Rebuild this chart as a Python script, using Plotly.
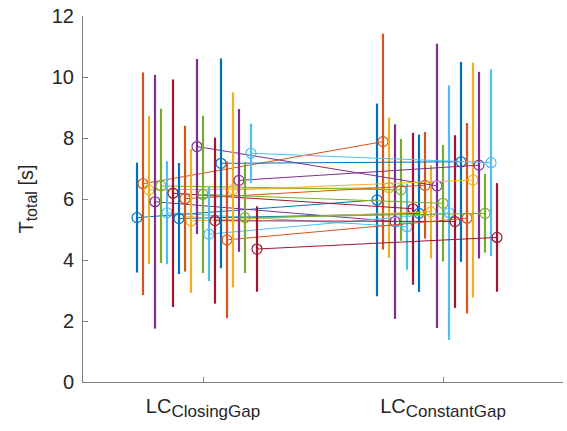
import plotly.graph_objects as go

# Per-subject total time (mean and standard deviation) for both lane-change conditions
sub_style = "<sub><span style='font-size:17px'>{}</span></sub>"
conditions = ["LC" + sub_style.format("ClosingGap"), "LC" + sub_style.format("ConstantGap")]

closing_mean = [5.39, 6.50, 6.30, 5.91, 6.43, 5.55, 6.19, 5.36, 6.01, 5.28, 7.72,
                6.15, 4.85, 5.29, 7.17, 4.66, 6.30, 6.61, 5.39, 7.50, 4.36]
closing_sd = [1.80, 3.65, 2.43, 4.16, 2.53, 1.69, 3.73, 1.82, 2.39, 2.36, 2.87,
              2.58, 1.54, 2.72, 3.44, 2.57, 3.20, 2.34, 1.82, 0.97, 1.40]

constant_mean = [5.97, 7.88, 6.37, 5.26, 6.30, 5.09, 5.68, 5.53, 6.45, 5.58, 6.43,
                 5.86, 5.55, 5.26, 7.22, 5.37, 6.62, 7.11, 5.53, 7.19, 4.74]
constant_sd = [3.16, 3.54, 2.30, 3.19, 1.67, 1.41, 2.49, 2.58, 1.75, 1.53, 4.66,
               1.91, 4.17, 2.83, 3.28, 3.12, 3.85, 3.06, 1.29, 3.06, 1.78]

y_ticks = [0, 2, 4, 6, 8, 10, 12]

palette = ["#0072BD", "#D95319", "#EDB120", "#7E2F8E", "#77AC30", "#4DBEEE", "#A2142F"]

axis_color = "#262626"
font_family = "Liberation Sans, Arial, Helvetica, sans-serif"

fig = go.Figure()

n = len(closing_mean)
for i in range(n):
    off = -0.275 + 0.025 * i
    col = palette[i % len(palette)]
    fig.add_trace(go.Scatter(
        x=[1 + off, 2 + off],
        y=[closing_mean[i], constant_mean[i]],
        mode="lines+markers",
        line=dict(color=col, width=1),
        marker=dict(symbol="circle-open", size=10, color=col, line=dict(width=1.2, color=col)),
        error_y=dict(type="data", array=[closing_sd[i], constant_sd[i]],
                     visible=True, color=col, thickness=2.2, width=0),
        showlegend=False,
        hoverinfo="skip",
    ))

fig.update_layout(
    width=567, height=431,
    margin=dict(l=83, r=4, t=16, b=49),
    paper_bgcolor="white", plot_bgcolor="white",
    font=dict(family=font_family, size=20, color=axis_color),
    xaxis=dict(
        range=[0.5, 2.5], tickvals=[1, 2], ticktext=conditions,
        showgrid=False, zeroline=False, showline=True, linecolor="#7f7f7f", linewidth=1,
        ticks="inside", ticklen=5, tickcolor="#7f7f7f",
        tickfont=dict(size=20, color=axis_color), ticklabelstandoff=6,
    ),
    yaxis=dict(
        range=[0, 12], tickvals=y_ticks,
        showgrid=False, zeroline=False, showline=True, linecolor="#7f7f7f", linewidth=1,
        ticks="inside", ticklen=5, tickcolor="#7f7f7f",
        tickfont=dict(size=20, color=axis_color), ticklabelstandoff=4,
        title=dict(text="T<sub><span style='font-size:16px'>total</span></sub> [s]",
                   font=dict(size=20, color=axis_color), standoff=12),
    ),
)

fig.write_html("out.html")
